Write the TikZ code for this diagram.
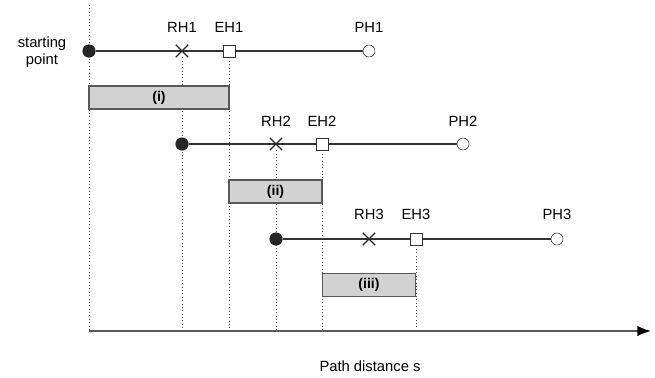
\documentclass[tikz,border=0pt]{standalone}
\usepackage{fontspec}
\setmainfont{Liberation Sans}
\usetikzlibrary{shapes.misc,arrows.meta,backgrounds}

\tikzset{
    startdot/.style={circle,fill=black!85,inner sep=0pt,minimum size=0.33cm},
    endcirc/.style={circle,draw=black!80,fill=white,inner sep=0pt,minimum size=0.3cm},
    rhmark/.style={cross out,draw=black!85,line width=0.8pt,inner sep=0pt,minimum size=0.28cm},
    ehmark/.style={rectangle,draw=black!80,fill=white,inner sep=0pt,minimum size=0.31cm},
    rowline/.style={draw=black!80,line width=0.9pt},
    guide/.style={dotted,draw=black!70},
    phasebox/.style={rectangle,draw=black!65,fill=gray!35,line width=0.9pt,
        minimum height=0.575cm,font=\bfseries},
}

\begin{document}
\begin{tikzpicture}[x=0.025cm,y=-0.025cm,font=\fontsize{10.5}{12.5}\selectfont]
    \useasboundingbox (0,0) rectangle (655,377);

    \coordinate (top) at (89,5);
    \coordinate (o) at (89,331);
    \coordinate (tip) at (651,331);

    % row 1
    \node[startdot] (s1) at (89,51) {};
    \node[rhmark] (r1) at (182,51) {};
    \node[ehmark] (e1) at (229,51) {};
    \node[endcirc] (p1) at (369,51) {};
    \node (lr1) at (182,27) {RH1};
    \node (le1) at (229,27) {EH1};
    \node (lp1) at (369,27) {PH1};
    \node[align=center] (sp) at (42,52) {starting\\point};

    % row 2
    \node[startdot] (s2) at (182,144) {};
    \node[rhmark] (r2) at (276,144) {};
    \node[ehmark] (e2) at (322,144) {};
    \node[endcirc] (p2) at (463,144) {};
    \node (lr2) at (276,121) {RH2};
    \node (le2) at (322,121) {EH2};
    \node (lp2) at (463,121) {PH2};

    % row 3
    \node[startdot] (s3) at (276,239) {};
    \node[rhmark] (r3) at (369,239) {};
    \node[ehmark] (e3) at (416,239) {};
    \node[endcirc] (p3) at (557,239) {};
    \node (lr3) at (369,214) {RH3};
    \node (le3) at (416,214) {EH3};
    \node (lp3) at (557,214) {PH3};

    % phases
    \node[phasebox,minimum width=3.5cm] (b1) at (159,97.5) {(i)};
    \node[phasebox,minimum width=2.33cm] (b2) at (275.5,191.5) {(ii)};
    \node[phasebox,minimum width=2.33cm] (b3) at (369,285) {(iii)};

    \begin{pgfonlayer}{background}
        \draw[rowline] (s1) -- (p1);
        \draw[rowline] (s2) -- (p2);
        \draw[rowline] (s3) -- (p3);
        \draw[guide] (top) -- (o);
        \draw[guide] (r1) -- (r1 |- o);
        \draw[guide] (e1) -- (e1 |- o);
        \draw[guide] (r2) -- (r2 |- o);
        \draw[guide] (e2) -- (e2 |- o);
        \draw[guide] (e3) -- (e3 |- o);
    \end{pgfonlayer}

    \draw[draw=black!65,line width=1.1pt,-{Latex[black,length=0.34cm,width=0.26cm]}] (o) -- (tip);
    \node (xl) at (370,366) {Path distance s};
\end{tikzpicture}
\end{document}
